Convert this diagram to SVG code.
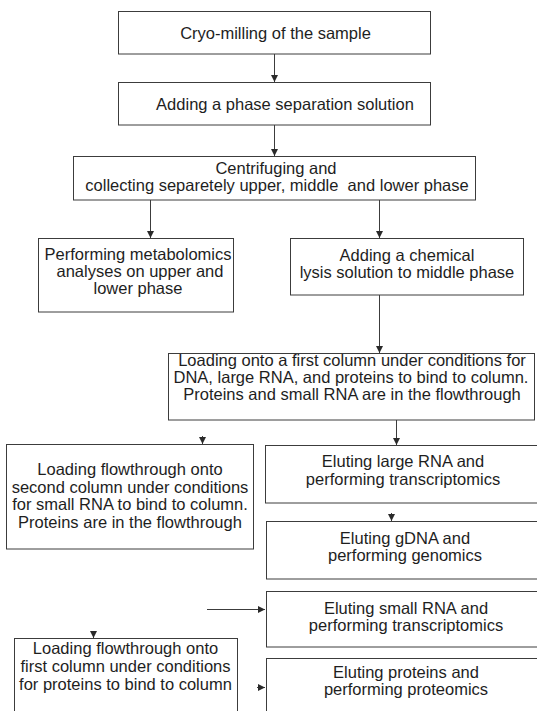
<svg xmlns="http://www.w3.org/2000/svg" width="537" height="711" viewBox="0 0 537 711">
<style>
  .box { fill: #ffffff; stroke: #3c3c3c; stroke-width: 1; }
  .t { font-family: "Liberation Sans", Arial, sans-serif; font-size: 16.5px; fill: #1e1e1e; text-anchor: middle; }
  .c { stroke: #3c3c3c; stroke-width: 1; fill: none; marker-end: url(#ah); }
</style>
<defs>
  <marker id="ah" markerUnits="userSpaceOnUse" markerWidth="8" markerHeight="8" refX="7" refY="3.5" orient="auto">
    <path d="M0,0 L7,3.5 L0,7 z" fill="#2a2a2a"/>
  </marker>
</defs>
<rect width="537" height="711" fill="#ffffff"/>

<g id="connectors">
  <line class="c" x1="274.5" y1="54" x2="274.5" y2="82"/>
  <line class="c" x1="274.5" y1="125" x2="274.5" y2="156"/>
  <line class="c" x1="150.5" y1="200" x2="150.5" y2="238"/>
  <line class="c" x1="379.5" y1="200" x2="379.5" y2="238"/>
  <line class="c" x1="379.5" y1="295" x2="379.5" y2="353"/>
  <line class="c" x1="396.5" y1="420" x2="396.5" y2="445"/>
  <line class="c" x1="202.5" y1="436" x2="202.5" y2="444"/>
  <line class="c" x1="391.5" y1="513" x2="391.5" y2="521"/>
  <line class="c" x1="207" y1="609.5" x2="265" y2="609.5"/>
  <line class="c" x1="93.5" y1="631" x2="93.5" y2="638"/>
  <line class="c" x1="257" y1="687.5" x2="265" y2="687.5"/>
</g>

<g id="n1">
  <rect class="box" x="118.5" y="11.5" width="312" height="42.5"/>
  <text class="t" x="275.5" y="38.5">Cryo-milling of the sample</text>
</g>
<g id="n2">
  <rect class="box" x="118.5" y="82.5" width="312" height="42.5"/>
  <text class="t" x="285" y="109.5">Adding a phase separation solution</text>
</g>
<g id="n3">
  <rect class="box" x="73.5" y="156.5" width="402" height="43.5"/>
  <text class="t" x="276" y="173.5">Centrifuging and</text>
  <text class="t" x="277" y="191">collecting separetely upper, middle&#160; and lower phase</text>
</g>
<g id="n4">
  <rect class="box" x="38.5" y="238.5" width="195" height="73.5"/>
  <text class="t" x="138" y="260">Performing metabolomics</text>
  <text class="t" x="140" y="277">analyses on upper and</text>
  <text class="t" x="138" y="294">lower phase</text>
</g>
<g id="n5">
  <rect class="box" x="290.5" y="238.5" width="233" height="56.5"/>
  <text class="t" x="407" y="261">Adding a chemical</text>
  <text class="t" x="407" y="278">lysis solution to middle phase</text>
</g>
<g id="n6">
  <rect class="box" x="168.5" y="353.5" width="366" height="66.5"/>
  <text class="t" x="352" y="366">Loading onto a first column under conditions for</text>
  <text class="t" x="351" y="383">DNA, large RNA, and proteins to bind to column.</text>
  <text class="t" x="352" y="400">Proteins and small RNA are in the flowthrough</text>
</g>
<g id="n7">
  <rect class="box" x="265.5" y="445.5" width="290" height="57.5"/>
  <text class="t" x="403" y="467">Eluting large RNA and</text>
  <text class="t" x="403" y="485">performing transcriptomics</text>
</g>
<g id="n8">
  <rect class="box" x="6.5" y="444.5" width="247" height="104.5"/>
  <text class="t" x="130" y="475">Loading flowthrough onto</text>
  <text class="t" x="130" y="492.5">second column under conditions</text>
  <text class="t" x="130" y="510">for small RNA to bind to column.</text>
  <text class="t" x="130" y="527.5">Proteins are in the flowthrough</text>
</g>
<g id="n9">
  <rect class="box" x="266.5" y="521.5" width="290" height="57.5"/>
  <text class="t" x="405" y="544">Eluting gDNA and</text>
  <text class="t" x="405" y="561">performing genomics</text>
</g>
<g id="n10">
  <rect class="box" x="266.5" y="591.5" width="290" height="55.5"/>
  <text class="t" x="406" y="614">Eluting small RNA and</text>
  <text class="t" x="406" y="631">performing transcriptomics</text>
</g>
<g id="n11">
  <rect class="box" x="14.5" y="638.5" width="223" height="90"/>
  <text class="t" x="125.5" y="654">Loading flowthrough onto</text>
  <text class="t" x="125.5" y="672">first column under conditions</text>
  <text class="t" x="125.5" y="690">for proteins to bind to column</text>
</g>
<g id="n12">
  <rect class="box" x="266.5" y="658.5" width="290" height="70"/>
  <text class="t" x="406" y="678">Eluting proteins and</text>
  <text class="t" x="406" y="695">performing proteomics</text>
</g>
</svg>
